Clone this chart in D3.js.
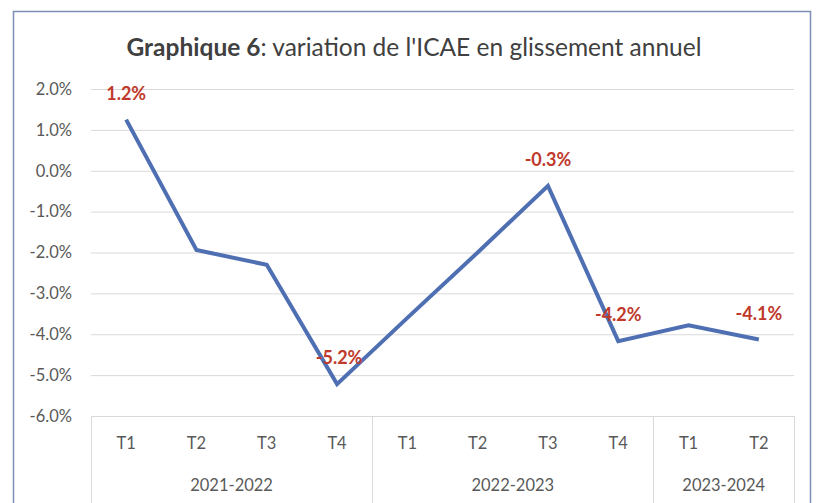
<!DOCTYPE html>
<html>
<head>
<meta charset="utf-8">
<script src="https://cdn.jsdelivr.net/npm/d3@7/dist/d3.min.js"></script>
<style>
  body { margin: 0; background: #fff; }
  svg { display: block; font-family: Lato, "Open Sans", sans-serif; }
</style>
</head>
<body>
<div class="chart"></div>
<script>
// quarters and fiscal years
const quarters = ["T1", "T2", "T3", "T4", "T1", "T2", "T3", "T4", "T1", "T2"];
const years = ["2021-2022", "2022-2023", "2023-2024"];
const yearSpans = [4, 4, 2];
// ICAE, year on year variation (%)
const values = [1.25, -1.94, -2.3, -5.22, -3.6, -2.0, -0.37, -4.17, -3.78, -4.13];
const labels = ["1.2%", null, null, "-5.2%", null, null, "-0.3%", "-4.2%", null, "-4.1%"];
const yTicks = [2, 1, 0, -1, -2, -3, -4, -5, -6];

const width = 817, height = 503;
const margin = { top: 89, right: 23, bottom: 87, left: 91 };

const svg = d3.select('.chart')
  .append('svg')
  .attr('width', width)
  .attr('height', height);

// outer frame
svg.append('rect')
  .attr('x', 13.5).attr('y', 11.5)
  .attr('width', 797).attr('height', 520)
  .attr('fill', 'none')
  .attr('stroke', '#7d8db5')
  .attr('stroke-width', 1.5);

// title
const title = svg.append('text')
  .attr('x', 414).attr('y', 56)
  .attr('text-anchor', 'middle')
  .attr('font-size', 24.5)
  .attr('fill', '#404040');
title.append('tspan').attr('font-weight', 'bold').text('Graphique 6');
title.append('tspan').text(": variation de l'ICAE en glissement annuel");

const x = d3.scaleBand()
  .domain(d3.range(quarters.length))
  .range([margin.left, width - margin.right]);

const y = d3.scaleLinear()
  .domain([-6, 2])
  .range([height - margin.bottom, margin.top]);

const pct = d => d3.format('.1f')(d).replace('\u2212', '-') + '%';

// gridlines
svg.append('g')
  .selectAll('line')
  .data(yTicks)
  .enter().append('line')
  .attr('x1', margin.left)
  .attr('x2', width - margin.right)
  .attr('y1', d => y(d) + 0.5)
  .attr('y2', d => y(d) + 0.5)
  .attr('stroke', '#d9d9d9')
  .attr('stroke-width', 1);

// y axis labels
svg.append('g')
  .selectAll('text')
  .data(yTicks)
  .enter().append('text')
  .attr('x', 72)
  .attr('y', d => y(d))
  .attr('dy', '0.35em')
  .attr('text-anchor', 'end')
  .attr('font-size', 16.5)
  .attr('fill', '#595959')
  .text(pct);

// category axis: quarter labels
svg.append('g')
  .selectAll('text')
  .data(quarters)
  .enter().append('text')
  .attr('x', (d, i) => x(i) + x.bandwidth() / 2)
  .attr('y', 443)
  .attr('dy', '0.35em')
  .attr('text-anchor', 'middle')
  .attr('font-size', 16.5)
  .attr('fill', '#595959')
  .text(d => d);

// year groups
let start = 0;
const groups = years.map((yr, k) => {
  const g = { name: yr, from: start, to: start + yearSpans[k] };
  start += yearSpans[k];
  return g;
});

svg.append('g')
  .selectAll('text')
  .data(groups)
  .enter().append('text')
  .attr('x', d => (x(d.from) + x(d.to - 1) + x.bandwidth()) / 2)
  .attr('y', 485)
  .attr('dy', '0.35em')
  .attr('text-anchor', 'middle')
  .attr('font-size', 16.5)
  .attr('fill', '#595959')
  .text(d => d.name);

// separators between year groups
const sepX = [x(0)].concat(groups.map(g => x(g.to - 1) + x.bandwidth()));
svg.append('g')
  .selectAll('line')
  .data(sepX)
  .enter().append('line')
  .attr('x1', d => Math.round(d) + 0.5)
  .attr('x2', d => Math.round(d) + 0.5)
  .attr('y1', y(-6))
  .attr('y2', height)
  .attr('stroke', '#d9d9d9')
  .attr('stroke-width', 1);

// the line
const line = d3.line()
  .x((d, i) => x(i) + x.bandwidth() / 2)
  .y(d => y(d));

svg.append('path')
  .datum(values)
  .attr('d', line)
  .attr('fill', 'none')
  .attr('stroke', '#4f6fb3')
  .attr('stroke-width', 4)
  .attr('stroke-linejoin', 'miter');

// data labels
svg.append('g')
  .selectAll('text')
  .data(values.map((v, i) => ({ v, i, t: labels[i] })).filter(d => d.t))
  .enter().append('text')
  .attr('x', d => x(d.i) + x.bandwidth() / 2 + (d.i === 3 ? 2 : 0))
  .attr('y', d => y(d.v) - 20)
  .attr('text-anchor', 'middle')
  .attr('font-size', 18)
  .attr('font-weight', 'bold')
  .attr('fill', '#c0392b')
  .text(d => d.t);
</script>
</body>
</html>
